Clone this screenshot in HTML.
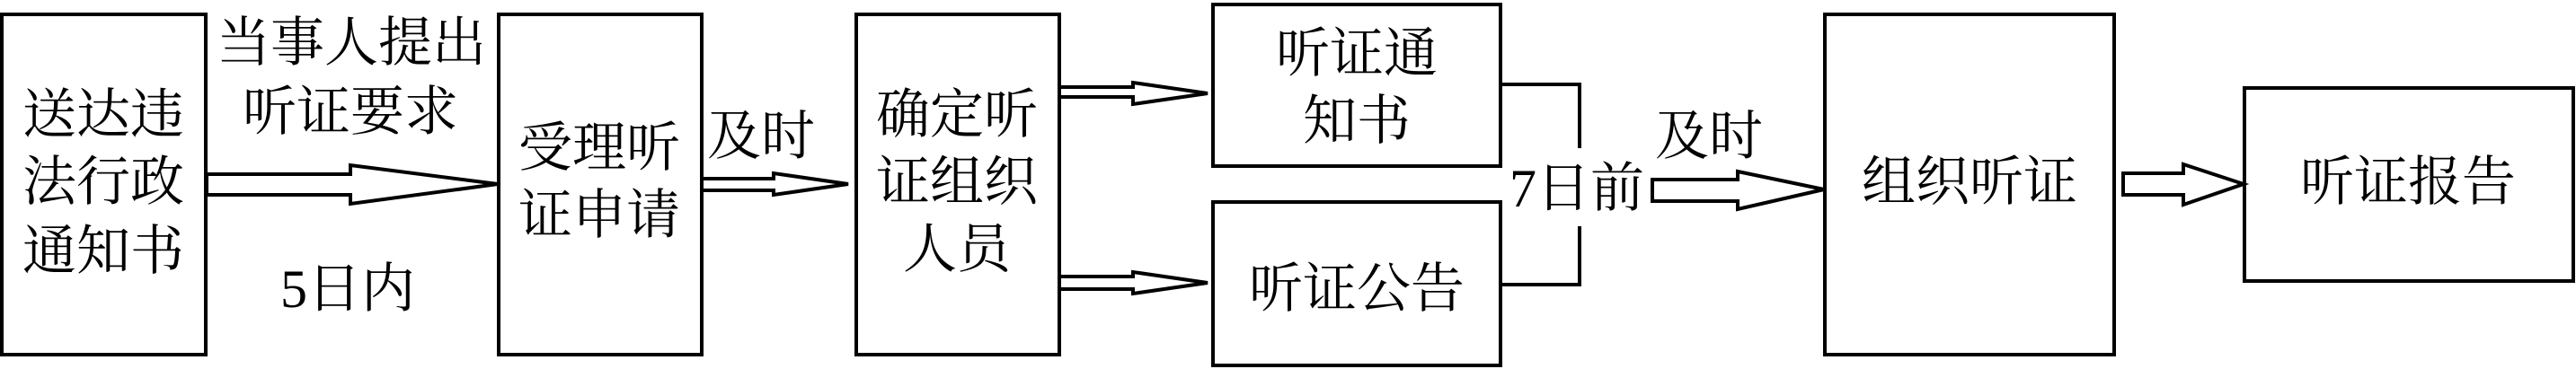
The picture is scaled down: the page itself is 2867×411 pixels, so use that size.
<!DOCTYPE html>
<html><head><meta charset="utf-8"><style>html,body{margin:0;padding:0;background:#fff}svg{display:block}</style></head>
<body>
<svg width="2867" height="411" viewBox="0 0 2867 411" xmlns="http://www.w3.org/2000/svg">
<g fill="none" stroke="#000" stroke-width="4">
<rect x="2" y="16" width="227" height="379"/>
<rect x="555" y="16" width="226" height="379"/>
<rect x="953" y="16" width="226" height="379"/>
<rect x="1350" y="5" width="320" height="180"/>
<rect x="1350" y="225" width="320" height="182"/>
<rect x="2031" y="16" width="322" height="379"/>
<rect x="2498" y="98" width="366" height="215"/>
<polyline points="1670,94 1758,94 1758,165"/>
<polyline points="1758,252 1758,317 1670,317"/>
<polygon points="230,194 390,194 390,184 554,205 390,227 390,217 230,217" stroke-linejoin="miter"/>
<polygon points="781,199 861,199 861,193 944,205 861,217 861,212 781,212"/>
<polygon points="1179,97 1261,97 1261,92 1344,104 1261,116 1261,108 1179,108"/>
<polygon points="1179,308 1261,308 1261,303 1344,315 1261,327 1261,322 1179,322"/>
<polygon points="1839,200 1934,200 1934,191 2030,211 1934,233 1934,224 1839,224"/>
<polygon points="2363,193 2430,193 2430,183 2497,205 2430,228 2430,217 2363,217"/>
</g>
<g font-family="'Liberation Serif','Noto Serif CJK SC',serif" font-size="60" text-anchor="middle" dominant-baseline="central" fill="#000">
<text x="115" y="128">送达违</text>
<text x="115" y="203">法行政</text>
<text x="115" y="280">通知书</text>
<text x="391" y="48">当事人提出</text>
<text x="390" y="125">听证要求</text>
<text x="387" y="322">5日内</text>
<text x="667" y="165">受理听</text>
<text x="667" y="240">证申请</text>
<text x="847" y="152">及时</text>
<text x="1065" y="128">确定听</text>
<text x="1065" y="203">证组织</text>
<text x="1065" y="278">人员</text>
<text x="1510" y="60">听证通</text>
<text x="1510" y="135">知书</text>
<text x="1510" y="322">听证公告</text>
<text x="1755" y="210">7日前</text>
<text x="1902" y="152">及时</text>
<text x="2192" y="203">组织听证</text>
<text x="2680" y="203">听证报告</text>
</g>
</svg>
</body></html>
